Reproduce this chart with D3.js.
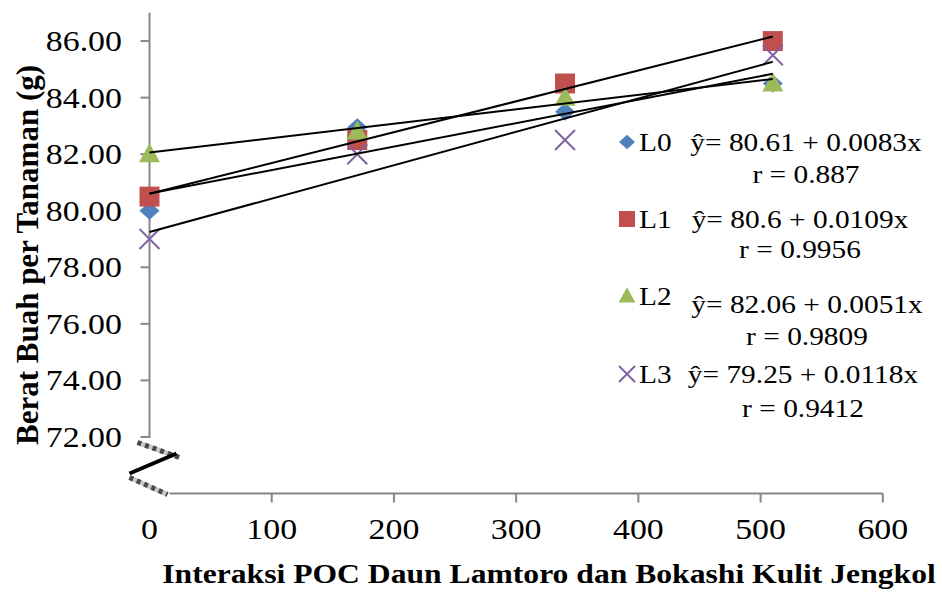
<!DOCTYPE html>
<html>
<head>
<meta charset="utf-8">
<script src="https://cdn.jsdelivr.net/npm/d3@7"></script>
<style>
  body { margin: 0; background: #fff; }
</style>
</head>
<body>
<div id="chart"></div>
<script>
// doses on the x axis
const doses = [0, 170, 340, 510];
const seriesNames = ["L0", "L1", "L2", "L3"];
const L0 = [80.0, 82.95, 83.5, 84.5];
const L1 = [80.5, 82.5, 84.5, 86.0];
const L2 = [82.0, 82.8, 84.0, 84.5];
const L3 = [79.0, 82.0, 82.5, 85.5];
// regression lines y = a + b x
const intercepts = [80.61, 80.6, 82.06, 79.25];
const slopes = [0.0083, 0.0109, 0.0051, 0.0118];
const equations = ["ŷ= 80.61 + 0.0083x", "ŷ= 80.6 + 0.0109x", "ŷ= 82.06 + 0.0051x", "ŷ= 79.25 + 0.0118x"];
const rLabels = ["r = 0.887", "r = 0.9956", "r = 0.9809", "r = 0.9412"];
const xTicks = [0, 100, 200, 300, 400, 500, 600];
const yTicks = [72, 74, 76, 78, 80, 82, 84, 86];

const values = [L0, L1, L2, L3];
const colors = ["#4F81BD", "#C0504D", "#9BBB59", "#8064A2"];
const shapes = ["diamond", "square", "triangle", "cross"];

const serif = "'Liberation Serif', 'Times New Roman', Times, serif";
const width = 942, height = 592;
const sx = 1.13; // the original text is a bit wider than tall
const svg = d3.select("#chart").append("svg")
    .attr("width", width)
    .attr("height", height)
    .attr("font-family", serif)
    .style("font-family", serif);

function label(g, tx, ty, txt, size, anchor, weight) {
  return g.append("text")
      .attr("transform", `translate(${tx},${ty}) scale(${sx},1)`)
      .attr("text-anchor", anchor || "start")
      .attr("font-size", size)
      .attr("font-weight", weight || "normal")
      .text(txt);
}

const x = d3.scaleLinear().domain([0, 600]).range([149.5, 882.8]);
const y = d3.scaleLinear().domain([70, 87]).range([493.5, 12.8]);

// y axis line (stops at the break)
svg.append("line")
    .attr("x1", x(0)).attr("x2", x(0))
    .attr("y1", y(87)).attr("y2", y(72) + 1)
    .attr("stroke", "#868686").attr("stroke-width", 2);

svg.append("g").selectAll("line")
    .data(yTicks).enter().append("line")
    .attr("x1", x(0) - 9).attr("x2", x(0))
    .attr("y1", d => y(d)).attr("y2", d => y(d))
    .attr("stroke", "#868686").attr("stroke-width", 2);

const yLab = svg.append("g");
yTicks.forEach(d => label(yLab, 122, y(d) + 10, d3.format(".2f")(d), 30, "end"));

// x axis line (starts after the break)
svg.append("line")
    .attr("x1", x(0) + 20).attr("x2", x(600))
    .attr("y1", y(70)).attr("y2", y(70))
    .attr("stroke", "#868686").attr("stroke-width", 2);

svg.append("g").selectAll("line")
    .data(xTicks.slice(1)).enter().append("line")
    .attr("x1", d => x(d)).attr("x2", d => x(d))
    .attr("y1", y(70)).attr("y2", y(70) + 9)
    .attr("stroke", "#868686").attr("stroke-width", 2);

const xLab = svg.append("g");
xTicks.forEach(d => label(xLab, x(d), 539, d, 30, "middle"));

// axis break mark
const bx = x(0), by = y(70);
function jag(x1, y1, x2, y2) {
  svg.append("line").attr("x1", x1).attr("y1", y1).attr("x2", x2).attr("y2", y2)
      .attr("stroke", "#c8c8c8").attr("stroke-width", 5);
  svg.append("line").attr("x1", x1).attr("y1", y1).attr("x2", x2).attr("y2", y2)
      .attr("stroke", "#4a4a4a").attr("stroke-width", 5).attr("stroke-dasharray", "4 4");
}
jag(bx - 12, by - 51, bx + 30, by - 36);
jag(bx - 20, by - 16, bx + 18, by + 1);
svg.append("line")
    .attr("x1", bx - 20).attr("y1", by - 20)
    .attr("x2", bx + 27).attr("y2", by - 40)
    .attr("stroke", "#000").attr("stroke-width", 4);

// markers
function drawMarker(g, shape, color, cx, cy, k) {
  let d;
  if (shape === "cross") {
    const s = 10 * k;
    g.append("path")
        .attr("d", `M${cx - s},${cy - s}L${cx + s},${cy + s}M${cx - s},${cy + s}L${cx + s},${cy - s}`)
        .attr("stroke", color).attr("stroke-width", 2).attr("fill", "none");
    return;
  }
  if (shape === "diamond") {
    d = `M${cx},${cy - 9 * k}L${cx + 10 * k},${cy}L${cx},${cy + 9 * k}L${cx - 10 * k},${cy}Z`;
  } else if (shape === "square") {
    const s = 10 * k;
    d = `M${cx - s},${cy - s}H${cx + s}V${cy + s}H${cx - s}Z`;
  } else {
    d = `M${cx},${cy - 11 * k}L${cx + 10.5 * k},${cy + 8 * k}H${cx - 10.5 * k}Z`;
  }
  g.append("path").attr("d", d).attr("fill", color);
}

const marks = svg.append("g");
values.forEach((vals, i) => {
  vals.forEach((v, j) => drawMarker(marks, shapes[i], colors[i], x(doses[j]), y(v), 1));
});

// trend lines
svg.append("g").selectAll("line")
    .data(intercepts).enter().append("line")
    .attr("x1", x(0)).attr("y1", d => y(d))
    .attr("x2", x(510)).attr("y2", (d, i) => y(d + slopes[i] * 510))
    .attr("stroke", "#000").attr("stroke-width", 2);

// legend
const legBase = [151, 228, 305, 383];
const eqBase = [151, 228, 313, 383];
const rBase = [183, 258, 345, 417];
const eqCenter = [806, 800, 807, 803];
const leg = svg.append("g");
seriesNames.forEach((name, i) => {
  drawMarker(leg, shapes[i], colors[i], 627, legBase[i] - 9, 0.8);
  label(leg, 639, legBase[i], name, 26);
  label(leg, eqCenter[i], eqBase[i], equations[i], 26, "middle");
  label(leg, eqCenter[i], rBase[i], rLabels[i], 26, "middle");
});

// axis titles
label(svg, 549, 583, "Interaksi POC Daun Lamtoro dan Bokashi Kulit Jengkol", 28, "middle", "bold");

svg.append("text")
    .attr("transform", "translate(38,255) rotate(-90)")
    .attr("text-anchor", "middle")
    .attr("font-size", 31).attr("font-weight", "bold")
    .text("Berat Buah per Tanaman (g)");
</script>
</body>
</html>
